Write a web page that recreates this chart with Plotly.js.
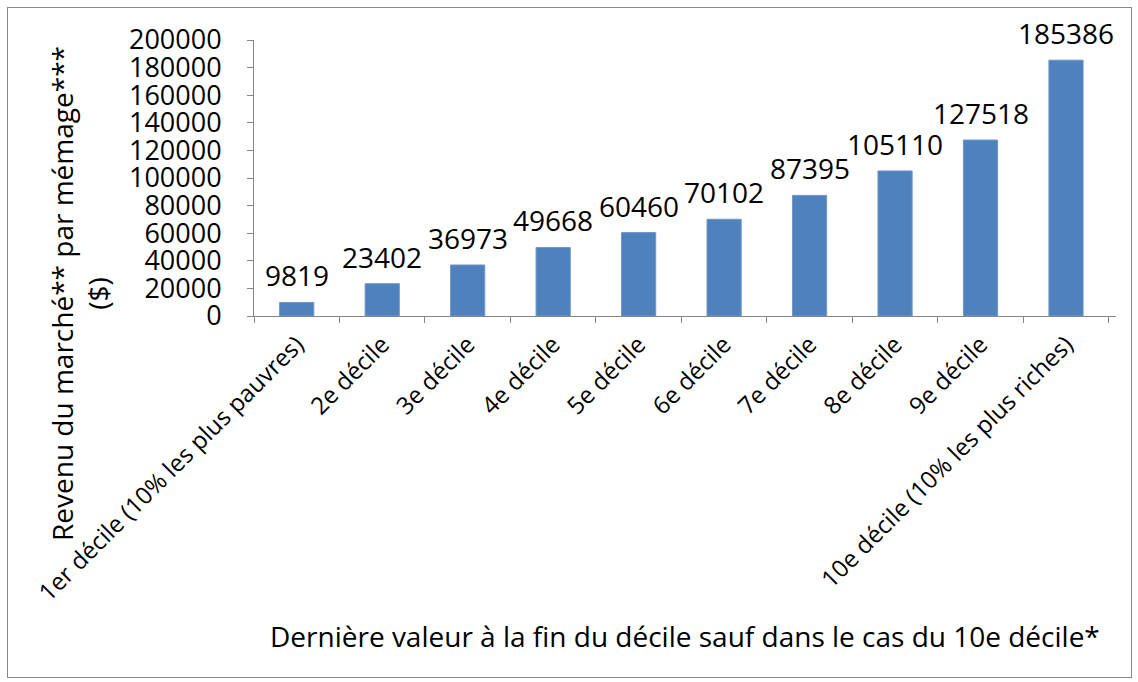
<!DOCTYPE html>
<html>
<head>
<meta charset="utf-8">
<script src="https://cdn.plot.ly/plotly-3.0.1.min.js"></script>
<style>
html,body{margin:0;padding:0;background:#fff;}
#wrap{position:relative;width:1138px;height:682px;}
#chart{width:1138px;height:682px;}
#frame{position:absolute;left:7px;top:7px;width:1123px;height:669px;border:1px solid #898989;pointer-events:none;}
</style>
</head>
<body>
<div id="wrap"><div id="chart"></div><div id="frame"></div></div>
<script>
const categories = ["1er décile (10% les plus pauvres)", "2e décile", "3e décile", "4e décile", "5e décile", "6e décile", "7e décile", "8e décile", "9e décile", "10e décile (10% les plus riches)"];
const values = [9819, 23402, 36973, 49668, 60460, 70102, 87395, 105110, 127518, 185386];
const yTicks = [0, 20000, 40000, 60000, 80000, 100000, 120000, 140000, 160000, 180000, 200000];
const yTitle = "Revenu du marché** par mémage***<br>($)";
const xTitle = "Dernière valeur à la fin du décile sauf dans le cas du 10e décile*";

const FONT = "Open Sans, sans-serif";

const labelAnns = categories.map((c, i) => ({
  x: c, y: values[i], xref: 'x', yref: 'y',
  text: String(values[i]), showarrow: false,
  yanchor: 'bottom', xanchor: 'center', yshift: 6,
  font: {family: FONT, size: 28, color: '#000'}
}));

const layout = {
  width: 1138, height: 682,
  margin: {l: 254, r: 22, t: 40, b: 366},
  paper_bgcolor: '#fff', plot_bgcolor: '#fff',
  showlegend: false,
  bargap: 0.6,
  font: {family: FONT, size: 26, color: '#000'},
  xaxis: {
    type: 'category', tickangle: -45, tickson: 'boundaries',
    ticks: 'outside', ticklen: 6, tickcolor: '#868686', tickwidth: 1,
    showline: true, linecolor: '#868686', linewidth: 1,
    showgrid: false, zeroline: false,
    tickfont: {family: FONT, size: 24, color: '#000'},
    ticklabelstandoff: 4,
    automargin: false
  },
  yaxis: {
    range: [0, 200000], tickvals: yTicks, ticktext: yTicks.map(String),
    ticks: 'outside', ticklen: 6, tickcolor: '#868686', tickwidth: 1,
    showline: true, linecolor: '#868686', linewidth: 1,
    showgrid: false, zeroline: false,
    tickfont: {family: FONT, size: 27, color: '#000'},
    ticklabelstandoff: 20,
    automargin: false
  },
  annotations: labelAnns.concat([
    {xref: 'paper', yref: 'paper', x: (80 - 254) / 862, y: (316 - 294) / 276,
     text: yTitle, textangle: -90, showarrow: false, xanchor: 'center', yanchor: 'middle',
     font: {family: FONT, size: 28, color: '#000'}},
    {xref: 'paper', yref: 'paper', x: (685 - 254) / 862, y: (316 - 636) / 276,
     text: xTitle, showarrow: false, xanchor: 'center', yanchor: 'middle',
     font: {family: FONT, size: 28, color: '#000'}}
  ])
};

const data = [{
  type: 'bar', x: categories, y: values,
  marker: {color: '#4F81BD', line: {color: '#6F97CA', width: 1}},
  hoverinfo: 'none'
}];

Plotly.newPlot('chart', data, layout, {staticPlot: true, displayModeBar: false});
</script>
</body>
</html>
